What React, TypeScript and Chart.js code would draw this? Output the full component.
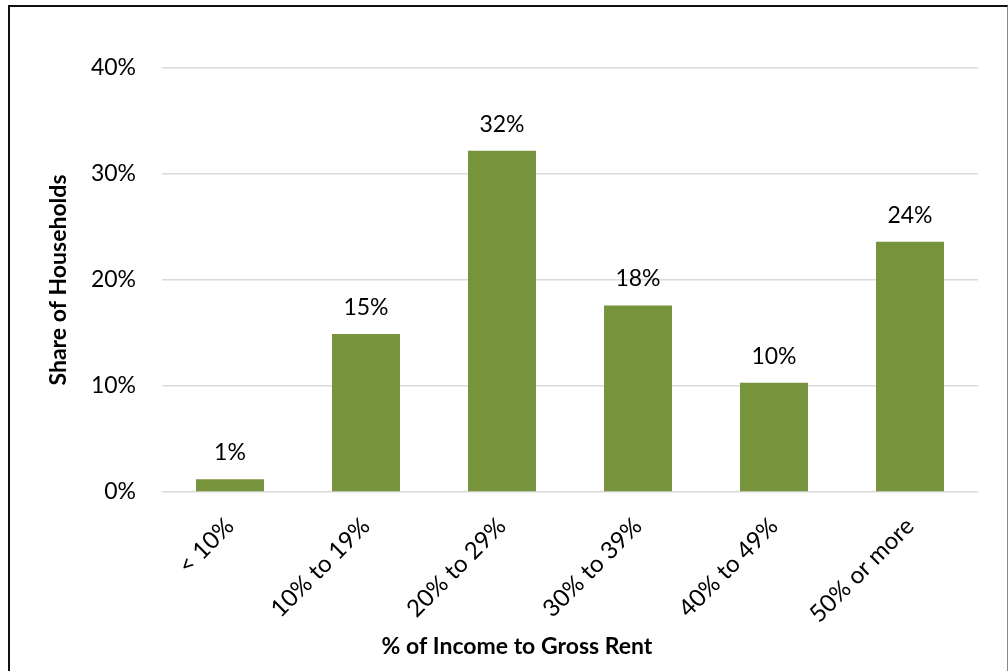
import React, { useEffect, useRef } from "react";
import { Chart, registerables } from "chart.js";

Chart.register(...registerables);

const categories = ["< 10%", "10% to 19%", "20% to 29%", "30% to 39%", "40% to 49%", "50% or more"];
const shareValues = [1.2, 14.9, 32.2, 17.6, 10.3, 23.6];
const yTicks = [0, 10, 20, 30, 40];
const xTitle = "% of Income to Gross Rent";
const yTitle = "Share of Households";

const FONT = "Lato, 'Open Sans', sans-serif";
const BAR_COLOR = "#77933C";

const labelsPlugin = {
  id: "customLabels",
  afterDatasetsDraw(chart: any) {
    const ctx = chart.ctx;
    const meta = chart.getDatasetMeta(0);
    ctx.save();
    ctx.font = `23px ${FONT}`;
    ctx.fillStyle = "#000";
    ctx.textAlign = "center";
    ctx.textBaseline = "alphabetic";
    meta.data.forEach((bar: any, i: number) => {
      const v = shareValues[i];
      ctx.fillText(`${Math.round(v)}%`, bar.x, bar.y - 19);
    });
    ctx.restore();
  },
  afterDraw(chart: any) {
    const ctx = chart.ctx;
    ctx.save();
    ctx.font = `bold 23px ${FONT}`;
    ctx.fillStyle = "#000";
    ctx.textAlign = "center";
    ctx.textBaseline = "alphabetic";
    ctx.fillText(xTitle, 517, 654);
    ctx.translate(66, 280);
    ctx.rotate(-Math.PI / 2);
    ctx.fillText(yTitle, 0, 0);
    ctx.restore();
  },
};

export default function App() {
  const ref = useRef<HTMLCanvasElement>(null);
  useEffect(() => {
    if (!ref.current) return;
    const chart = new Chart(ref.current, {
      type: "bar",
      data: {
        labels: categories,
        datasets: [
          {
            data: shareValues,
            backgroundColor: BAR_COLOR,
            barPercentage: 0.5,
            categoryPercentage: 1,
          },
        ],
      },
      options: {
        animation: false,
        responsive: false,
        devicePixelRatio: 1,
        layout: { padding: { left: 0, right: 30, top: 68, bottom: 0 } },
        plugins: { legend: { display: false }, tooltip: { enabled: false } },
        scales: {
          x: {
            grid: { display: false },
            border: { display: false },
            ticks: {
              color: "#000",
              font: { family: FONT, size: 24 },
              minRotation: 45,
              maxRotation: 45,
              padding: 12,
            },
            afterFit(scale: any) {
              scale.height = 179;
            },
          },
          y: {
            min: 0,
            max: 40,
            afterBuildTicks(scale: any) {
              scale.ticks = yTicks.map((v) => ({ value: v }));
            },
            grid: { color: "#d9d9d9", lineWidth: 1.5, drawTicks: false },
            border: { display: false },
            ticks: {
              color: "#000",
              font: { family: FONT, size: 23 },
              padding: 26,
              callback: (v: any) => `${v}%`,
            },
            afterFit(scale: any) {
              scale.width = 162;
            },
          },
        },
      },
      plugins: [labelsPlugin],
    });
    return () => chart.destroy();
  }, []);

  return (
    <div style={{ position: "absolute", left: 0, top: 0, width: 1008, height: 671, overflow: "hidden", background: "#fff" }}>
      <canvas ref={ref} width={1008} height={671} style={{ position: "absolute", left: 0, top: 0 }} />
      <div
        style={{
          position: "absolute",
          left: 8,
          top: 5,
          width: 1000,
          height: 720,
          boxSizing: "border-box",
          borderTop: "2px solid #111",
          borderLeft: "2px solid #111",
          borderRight: "1px solid #888",
          pointerEvents: "none",
        }}
      />
    </div>
  );
}
